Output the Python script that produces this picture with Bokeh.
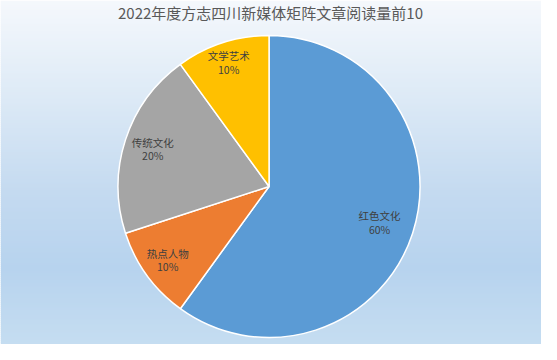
import numpy as np
from bokeh.plotting import figure
from bokeh.models import ColumnDataSource
from bokeh.core.properties import value
from bokeh.embed import file_html
from bokeh.resources import INLINE

# ---- data ----
title_text = "2022年度方志四川新媒体矩阵文章阅读量前10"
categories = ["红色文化", "热点人物", "传统文化", "文学艺术"]
shares = [60, 10, 20, 10]
colors = ["#5B9BD5", "#ED7D31", "#A5A5A5", "#FFC000"]

# ---- layout (pixel space of the figure) ----
W, H = 541, 344
sx, sy = W / 557.0, H / 360.0
cx, cy = 276.5 * sx, H - 194.7 * sy
R = 158.0 * sy
label_rfrac = [0.77, 0.83, 0.81, 0.865]
line_gap = 7.0 * sy

p = figure(width=W, height=H, x_range=(0, W), y_range=(0, H),
           output_backend="svg", toolbar_location=None,
           min_border=0, outline_line_color=None)
p.axis.visible = False
p.grid.visible = False
p.background_fill_color = "#FFFFFF"
p.border_fill_color = "#FFFFFF"

# background gradient
stops_y = [0, 100, 200, 280, 360]
stops_c = [(245, 248, 252), (221, 234, 246), (196, 218, 240), (183, 211, 238), (197, 221, 241)]
edges = np.arange(0, H + 2, 2)
tops, bots, cols = [], [], []
for i in range(len(edges) - 1):
    yp = (edges[i] + edges[i + 1]) / 2 / sy
    rgb = [int(round(np.interp(yp, stops_y, [c[k] for c in stops_c]))) for k in range(3)]
    cols.append("#%02x%02x%02x" % tuple(rgb))
    tops.append(H - edges[i])
    bots.append(H - edges[i + 1] - 0.5)
p.quad(left=0, right=W, top=tops, bottom=bots, fill_color=cols, line_color=None)

# pie
vals = np.array(shares, dtype=float)
fr = vals / vals.sum()
cum = np.concatenate([[0], np.cumsum(fr)])
start = np.pi / 2 - cum[:-1] * 2 * np.pi
end = np.pi / 2 - cum[1:] * 2 * np.pi
src = ColumnDataSource(dict(start=start, end=end, color=colors))
p.wedge(x=cx, y=cy, radius=R, start_angle="start", end_angle="end",
        direction="clock", fill_color="color", line_color="white",
        line_width=1.5, source=src)

# labels
mid = (start + end) / 2
lr = np.array(label_rfrac) * R
lx = cx + lr * np.cos(mid)
ly = cy + lr * np.sin(mid)
pct = ["%d%%" % round(f * 100) for f in fr]
p.text(x=lx, y=ly + line_gap, text=categories, text_font=value("Noto Sans CJK SC"),
       text_font_size="10.5px", text_color="#404040", text_align="center",
       text_baseline="middle")
p.text(x=lx, y=ly - line_gap, text=pct, text_font=value("Noto Sans CJK SC"),
       text_font_size="10.5px", text_color="#404040", text_align="center",
       text_baseline="middle")

# title
p.text(x=[278 * sx], y=[H - 13 * sy], text=[title_text], text_font=value("Noto Sans CJK SC"),
       text_font_size="15px", text_color="#595959", text_align="center",
       text_baseline="middle")

open("out.html", "w").write(file_html(p, INLINE))
